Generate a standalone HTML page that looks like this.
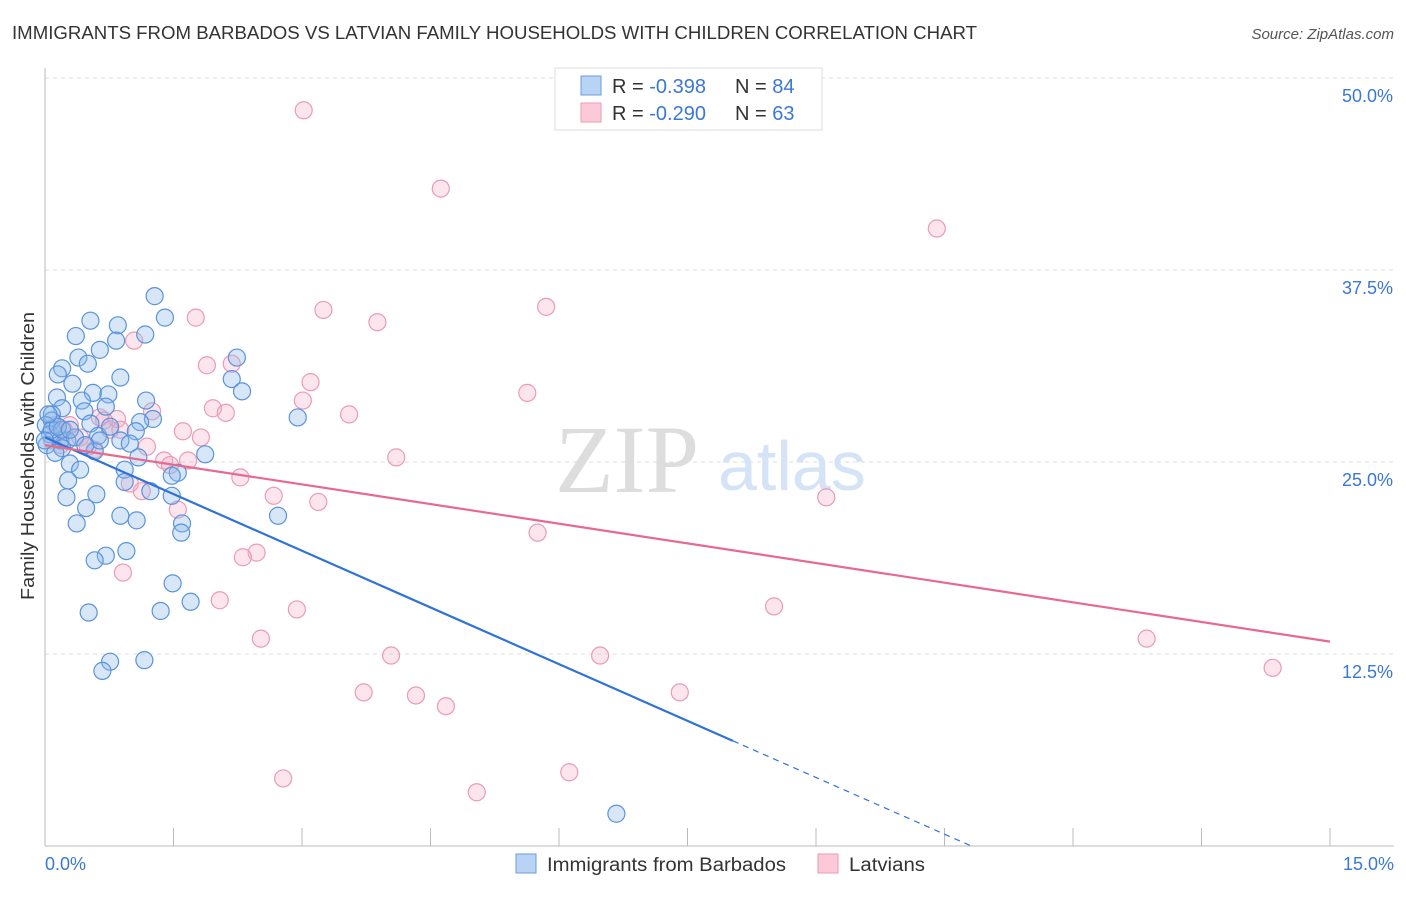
<!DOCTYPE html>
<html><head><meta charset="utf-8"><style>
body{margin:0;background:#fff;font-family:"Liberation Sans",sans-serif}
</style></head><body>
<svg width="1406" height="892" xmlns="http://www.w3.org/2000/svg" font-family="Liberation Sans, sans-serif">
<text x="12" y="39" font-size="18" fill="#333" textLength="965" lengthAdjust="spacingAndGlyphs">IMMIGRANTS FROM BARBADOS VS LATVIAN FAMILY HOUSEHOLDS WITH CHILDREN CORRELATION CHART</text>
<text x="1394" y="39" font-size="15" fill="#555" text-anchor="end" font-style="italic">Source: ZipAtlas.com</text>
<g id="grid"></g>
<text x="555" y="492" font-size="96" fill="#ddd" font-family="Liberation Serif, serif">ZIP</text>
<text x="718" y="490" font-size="70" fill="#d4e3f5">atlas</text>
<g id="pts"></g>
<g id="lines"></g>
<text x="34" y="456" font-size="18.5" fill="#333" text-anchor="middle" textLength="288" lengthAdjust="spacingAndGlyphs" transform="rotate(-90 34 456)">Family Households with Children</text>
<g>
<rect x="555" y="68" width="267" height="62" fill="#fff" stroke="#ddd"/>
<rect x="581" y="76" width="20" height="19" fill="#b8d3f4" stroke="#6b9ee0"/>
<rect x="581" y="103" width="20" height="19" fill="#fbc9d8" stroke="#ee9ab5"/>
<text x="612" y="93" font-size="20" fill="#333">R = <tspan fill="#3a78d6">-0.398</tspan></text>
<text x="735" y="93" font-size="20" fill="#333">N = <tspan fill="#3a78d6">84</tspan></text>
<text x="612" y="120" font-size="20" fill="#333">R = <tspan fill="#3a78d6">-0.290</tspan></text>
<text x="735" y="120" font-size="20" fill="#333">N = <tspan fill="#3a78d6">63</tspan></text>
</g>
<g>
<rect x="516" y="854" width="20" height="19" fill="#b8d3f4" stroke="#6b9ee0"/>
<text x="547" y="871" font-size="19" fill="#333" textLength="239" lengthAdjust="spacingAndGlyphs">Immigrants from Barbados</text>
<rect x="818" y="854" width="20" height="19" fill="#fbc9d8" stroke="#ee9ab5"/>
<text x="849" y="871" font-size="19" fill="#333" textLength="76" lengthAdjust="spacingAndGlyphs">Latvians</text>
</g>
</svg>
<script>
const xTicks=[0,1.5,3,4.5,6,7.5,9,10.5,12,13.5,15];
const yTicks=[12.5,25,37.5,50];
const yTickLabels=["12.5%","25.0%","37.5%","50.0%"];
const blueX=[1.28,1.40,0.53,0.85,1.17,0.36,0.83,0.64,2.24,0.39,0.50,0.20,0.15,0.88,2.18,0.32,2.30,0.56,0.74,1.18,0.14,0.43,0.71,0.20,0.46,0.08,2.95,1.26,1.11,0.53,0.08,0.01,1.06,0.06,0.62,0.26,0.18,0.88,0.99,0.20,0.58,1.87,1.09,0.29,0.93,0.41,1.55,1.48,0.93,0.27,1.23,0.60,1.48,0.25,0.48,0.88,2.72,1.07,0.37,1.60,1.59,0.95,0.71,0.58,1.49,1.70,1.35,0.51,0.76,0.67,1.16,6.67,0.08,0.02,0.12,0.20,0.35,0.15,0.04,0.64,0.00,0.76,0.29,0.47];
const blueY=[35.8,34.4,34.2,33.9,33.3,33.2,32.9,32.3,31.8,31.8,31.4,31.1,30.7,30.5,30.4,30.1,29.6,29.5,29.4,29.0,29.2,29.0,28.6,28.5,28.3,28.1,27.9,27.8,27.6,27.5,27.7,27.4,27.0,26.8,26.7,26.4,26.4,26.4,26.2,25.9,25.7,25.5,25.3,24.9,24.5,24.5,24.3,24.1,23.7,23.8,23.1,22.9,22.8,22.7,22.0,21.5,21.5,21.2,21.0,21.0,20.4,19.2,18.9,18.6,17.1,15.9,15.3,15.2,12.0,11.4,12.1,2.1,27.1,26.1,25.6,27.1,26.6,27.3,28.1,26.4,26.4,27.3,27.1,26.1];
const pinkX=[3.02,4.62,10.41,3.25,5.85,1.76,3.88,1.04,1.89,2.18,3.10,5.63,3.01,1.96,2.11,3.55,1.25,0.84,0.69,0.76,1.61,1.82,1.19,0.22,0.41,0.50,4.10,1.39,1.67,1.46,2.28,0.99,1.13,2.67,3.19,1.55,9.12,5.75,2.47,2.31,0.91,2.04,2.94,8.51,2.52,4.04,6.48,12.86,14.33,3.72,4.33,4.68,7.41,2.78,6.12,5.04,0.18,0.08,0.58,0.29,0.88,0.64,0.12];
const pinkY=[47.9,42.8,40.2,34.9,35.1,34.4,34.1,32.9,31.3,31.4,30.2,29.5,29.0,28.5,28.2,28.1,28.3,27.8,27.7,27.1,27.0,26.6,26.0,27.1,26.6,26.0,25.3,25.1,25.1,24.8,24.0,23.6,23.1,22.8,22.4,21.9,22.7,20.4,19.1,18.8,17.8,16.0,15.4,15.6,13.5,12.4,12.4,13.5,11.6,10.0,9.8,9.1,10.0,4.4,4.8,3.5,26.1,26.4,25.8,27.4,27.1,27.9,27.4];
const blueTrend=[26.6,-2.46];
const pinkTrend=[26.1,-0.853];
const NS="http://www.w3.org/2000/svg";
const sx=v=>45+v*(1285/15);
const sy=v=>846-v*15.36;
function mk(tag,attrs,parent){const e=document.createElementNS(NS,tag);for(const k in attrs)e.setAttribute(k,attrs[k]);parent.appendChild(e);return e;}
const grid=document.getElementById('grid');
yTicks.forEach((t,i)=>{
 const l=mk('line',{x1:45,x2:1394,y1:sy(t),y2:sy(t),stroke:'#ddd','stroke-dasharray':'4 4'},grid);
 
 
 const tx=mk('text',{x:1393,y:sy(t)+24,'font-size':18,fill:'#3a78d6','text-anchor':'end'},grid);
 tx.textContent=yTickLabels[i];
 
 
});
const ax=mk('line',{x1:45,x2:1394,y1:846,y2:846,stroke:'#bbb'},grid);


const ay=mk('line',{x1:45,x2:45,y1:68,y2:846,stroke:'#bbb'},grid);


xTicks.forEach(t=>{const l=mk('line',{x1:sx(t),x2:sx(t),y1:828,y2:846,stroke:'#bbb'},grid);
 
 });
const x0=mk('text',{x:45,y:870,'font-size':18,fill:'#3a78d6'},grid);x0.textContent='0.0%';


const x1=mk('text',{x:1394,y:870,'font-size':18,fill:'#3a78d6','text-anchor':'end'},grid);x1.textContent='15.0%';


const pts=document.getElementById('pts');
pinkX.forEach((v,i)=>{const c=mk('circle',{cx:sx(v),cy:sy(pinkY[i]),r:8.5,fill:'rgba(246,170,195,0.3)',stroke:'#eb9bb6','stroke-width':1.2},pts);
 
 });
blueX.forEach((v,i)=>{const c=mk('circle',{cx:sx(v),cy:sy(blueY[i]),r:8.5,fill:'rgba(140,185,235,0.35)',stroke:'#5a93dc','stroke-width':1.2},pts);
 
 });
const lines=document.getElementById('lines');
const bf=x=>blueTrend[0]+blueTrend[1]*x;
const pf=x=>pinkTrend[0]+pinkTrend[1]*x;
const bEnd=8.03, bZero=-blueTrend[0]/blueTrend[1];
const b1=mk('line',{x1:sx(0),y1:sy(bf(0)),x2:sx(bEnd),y2:sy(bf(bEnd)),stroke:'#2f72d8','stroke-width':2.2},lines);


const b2=mk('line',{x1:sx(bEnd),y1:sy(bf(bEnd)),x2:sx(bZero),y2:sy(0),stroke:'#2f72d8','stroke-width':1.2,'stroke-dasharray':'6 5'},lines);


const p1=mk('line',{x1:sx(0),y1:sy(pf(0)),x2:sx(15),y2:sy(pf(15)),stroke:'#e8698f','stroke-width':2.2},lines);


</script>
</body></html>
